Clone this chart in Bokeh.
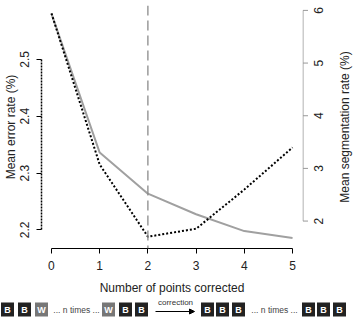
import math
from bokeh.plotting import figure
from bokeh.models import Range1d, FixedTicker, Span, Arrow, NormalHead
from bokeh.layouts import column, row
from bokeh.embed import file_html
from bokeh.resources import INLINE
from bokeh.core.properties import value

# ---- data ----
points = [0, 1, 2, 3, 4, 5]
error_rate = [2.581, 2.315, 2.188, 2.202, 2.271, 2.345]
seg_rate = [5.94, 3.30, 2.52, 2.13, 1.81, 1.68]
x_ticks = [0, 1, 2, 3, 4, 5]
err_ticks = [2.2, 2.3, 2.4, 2.5]
seg_ticks = [2, 3, 4, 5, 6]
seg_tick_labels = ["2", "3", "4", "5", "6"]
corrected_at = 2

# bottom schematic
box_x = [7, 24, 41, 108, 125, 141, 207, 222, 238, 308, 323, 339]
box_labels = ["B", "B", "W", "W", "B", "B", "B", "B", "B", "B", "B", "B"]
ntimes_x = [76, 274]
ntimes_text = ["... n times ...", "... n times ..."]

FONT = "Liberation Sans"
GRAY = "#a0a0a0"
AXGRAY = "#999999"
TOP, BOTTOM = 5, 44
SEG0, SEG1 = 1.4791, 6.0931

p = figure(width=302, height=297,
           x_range=Range1d(-0.2066, 5.2066),
           y_range=Range1d(2.16724, 2.59483),
           output_backend="svg", toolbar_location=None,
           min_border_left=40, min_border_right=0,
           min_border_top=TOP, min_border_bottom=BOTTOM)
p.grid.visible = False
p.outline_line_color = None
p.extra_y_ranges = {"seg": Range1d(SEG0, SEG1)}

p.line(points, seg_rate, y_range_name="seg", line_color=GRAY, line_width=2)
p.line(points, error_rate, line_color="black", line_width=2, line_dash="2 2")
p.add_layout(Span(location=corrected_at, dimension="height", line_color="#8a8a8a",
                  line_dash="10 5", line_width=1.3))

def style(ax, ticks, bounds, color):
    ax.ticker = FixedTicker(ticks=ticks)
    ax.bounds = bounds
    ax.major_tick_out = 5
    ax.major_tick_in = 0
    ax.minor_tick_line_color = None
    ax.axis_line_color = color
    ax.major_tick_line_color = color
    ax.major_label_text_font = FONT
    ax.major_label_text_font_size = "12px"
    ax.major_label_text_color = "#222222"
    ax.axis_label_text_font = FONT
    ax.axis_label_text_font_size = "12px"
    ax.axis_label_text_font_style = "normal"
    ax.axis_label_text_color = "#222222"

xa = p.xaxis[0]
style(xa, x_ticks, (0, 5), "black")
xa.axis_label = "Number of points corrected"
xa.major_label_standoff = 7
xa.axis_label_standoff = 8

ya = p.yaxis[0]
style(ya, err_ticks, (2.2, 2.5), "black")
ya.axis_label = "Mean error rate (%)"
ya.axis_line_dash = "2 1"
ya.axis_line_width = 1.5
ya.major_label_orientation = "vertical"
ya.major_label_standoff = 7
ya.axis_label_standoff = 0

# right-hand strip: segmentation axis (line, ticks, labels, title), reading bottom-to-top
r = figure(width=55, height=297, x_range=Range1d(0, 55), y_range=Range1d(SEG0, SEG1),
           output_backend="svg", toolbar_location=None,
           x_axis_location=None, y_axis_location=None,
           min_border_left=0, min_border_right=0,
           min_border_top=TOP, min_border_bottom=BOTTOM)
r.grid.visible = False
r.outline_line_color = None
r.segment(x0=[0.5], y0=[min(seg_ticks)], x1=[0.5], y1=[max(seg_ticks)],
          line_color=AXGRAY, line_width=1)
r.segment(x0=[0.5] * len(seg_ticks), y0=seg_ticks, x1=[5.5] * len(seg_ticks), y1=seg_ticks,
          line_color=AXGRAY, line_width=1)
r.text(x=[16] * len(seg_ticks), y=seg_ticks, text=seg_tick_labels, angle=math.pi / 2,
       text_align="center", text_baseline="middle", text_font=value(FONT),
       text_font_size="12px", text_color="#222222")
r.text(x=[42], y=[(SEG0 + SEG1) / 2], text=["Mean segmentation rate (%)"],
       angle=math.pi / 2, text_align="center", text_baseline="middle",
       text_font=value(FONT), text_font_size="12px", text_color="#222222")

# ---- schematic row ----
q = figure(width=357, height=21, x_range=Range1d(0, 357), y_range=Range1d(21, 0),
           output_backend="svg", toolbar_location=None,
           x_axis_location=None, y_axis_location=None, min_border=0)
q.grid.visible = False
q.outline_line_color = None
colors = ["#222222" if b == "B" else "#777777" for b in box_labels]
q.rect(x=box_x, y=12, width=13, height=14, fill_color=colors, line_color=None)
q.text(x=box_x, y=12, text=box_labels, text_align="center", text_baseline="middle",
       text_color="white", text_font_size="9px", text_font_style="bold",
       text_font=value(FONT))
q.text(x=ntimes_x, y=12, text=ntimes_text, text_align="center", text_baseline="middle",
       text_color="#444444", text_font_size="8.5px", text_font=value(FONT))
q.text(x=[175], y=[5], text=["correction"], text_align="center", text_baseline="middle",
       text_color="#333333", text_font_size="8px", text_font=value(FONT))
q.add_layout(Arrow(end=NormalHead(size=5, fill_color="black", line_color="black"),
                   x_start=155, y_start=14, x_end=194, y_end=14, line_width=1.2,
                   line_color="black"))

layout = column(row(p, r), q)
open("out.html", "w").write(file_html(layout, INLINE))
